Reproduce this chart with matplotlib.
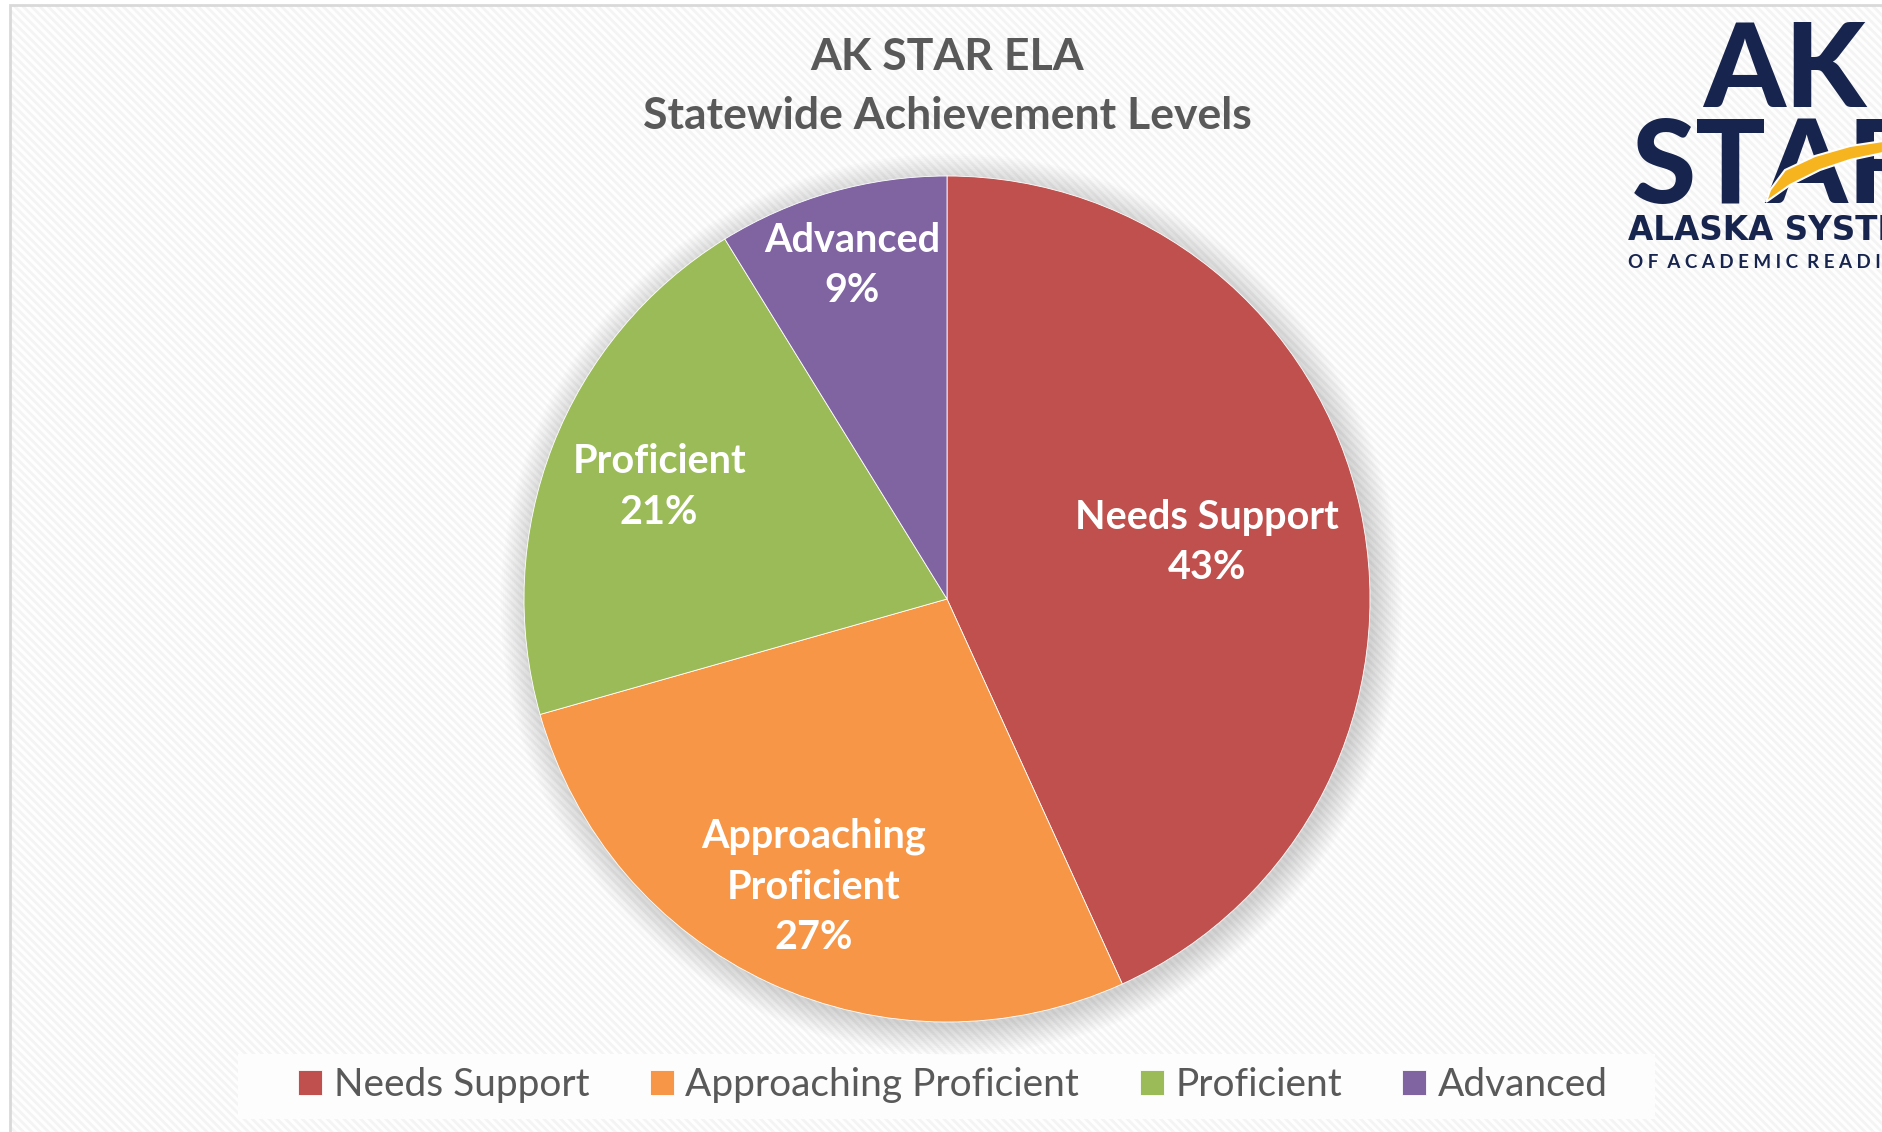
import matplotlib.pyplot as plt
import numpy as np
from matplotlib.patches import Rectangle, Circle, Polygon

# data
levels = ['Needs Support', 'Approaching\nProficient', 'Proficient', 'Advanced']
legend_names = ['Needs Support', 'Approaching Proficient', 'Proficient', 'Advanced']
shares = [43.2, 27.4, 20.6, 8.8]
colors = ['#C0504D', '#F79646', '#9BBB59', '#8064A2']
label_dist = [0.63, 0.75, 0.73, 0.82]

plt.rcParams['hatch.linewidth'] = 2.0

W, H = 1883, 1132
fig = plt.figure(figsize=(W / 100, H / 100), dpi=100)
fig.patch.set_facecolor('white')

# chart area with faint diagonal stripes, then its border
fig.patches.append(Rectangle((10 / W, -0.01), 1, (H - 5) / H + 0.01, transform=fig.transFigure,
                             facecolor='#fefefe', edgecolor='#f4f4f4', linewidth=0,
                             hatch='\\\\\\\\', zorder=-10))
fig.patches.append(Rectangle((10 / W, -0.01), 1, (H - 5) / H + 0.01, transform=fig.transFigure,
                             facecolor='none', edgecolor='#d9d9d9', linewidth=2, zorder=-9))

# legend box
fig.patches.append(Rectangle((238 / W, 1 - 1119 / H), (1655 - 238) / W, 65 / H,
                             transform=fig.transFigure, facecolor='#fdfdfd',
                             edgecolor='none', zorder=-5))

# pie axes, centre at (947, 599) px, radius 423 px
cx, cy, r = 947, 599, 423
ax = fig.add_axes([(cx - r) / W, (H - cy - r) / H, 2 * r / W, 2 * r / H])
ax.set_aspect('equal')
ax.axis('off')
ax.patch.set_visible(False)

# soft shadow
for i in range(14):
    ax.add_patch(Circle((0.01, -0.012), 1.0 + 0.005 * i, facecolor='black',
                        alpha=0.012, edgecolor='none', zorder=1, clip_on=False))

wedges, _ = ax.pie(shares, colors=colors, startangle=90, counterclock=False,
                   radius=1.0, wedgeprops=dict(edgecolor='white', linewidth=0.6))
for w in wedges:
    w.set_zorder(3)
ax.set_xlim(-1, 1)
ax.set_ylim(-1, 1)

for w, lab, val, d in zip(wedges, levels, shares, label_dist):
    ang = np.deg2rad((w.theta1 + w.theta2) / 2)
    ax.text(d * np.cos(ang), d * np.sin(ang), f'{lab}\n{val:.0f}%',
            ha='center', va='center', color='white', fontsize=28.5,
            fontweight='bold', family='Lato', linespacing=1.45, zorder=5)

# title
fig.text(947 / W, 1 - 57 / H, 'AK STAR ELA', ha='center', va='center',
         fontsize=32, fontweight='bold', color='#595959', family='Lato')
fig.text(947 / W, 1 - 116 / H, 'Statewide Achievement Levels', ha='center', va='center',
         fontsize=32, fontweight='bold', color='#595959', family='Lato')

# legend
leg = fig.legend(wedges, legend_names, loc='center', bbox_to_anchor=(953 / W, 1 - 1085 / H),
                 ncol=4, frameon=False, handlelength=0.62, handleheight=0.62,
                 handletextpad=0.3, columnspacing=1.55,
                 prop=dict(family='Lato', size=28))
for t in leg.get_texts():
    t.set_color('#595959')

# logo, top right (cut off by the edge)
navy = '#17244E'
fig.text(1703 / W, 1 - 107 / H, 'AK', ha='left', va='baseline', fontsize=84,
         fontweight='black', color=navy, family='Lato')
fig.text(1632 / W, 1 - 203 / H, 'STAR', ha='left', va='baseline', fontsize=84,
         fontweight='black', color=navy, family='Lato')
fig.text(1628 / W, 1 - 240 / H, 'ALASKA SYSTEM', ha='left', va='baseline', fontsize=23.5,
         fontweight='bold', color=navy, family='DejaVu Sans')
fig.text(1628 / W, 1 - 268 / H, 'O F  A C A D E M I C  R E A D I N E S S', ha='left',
         va='baseline', fontsize=13.5, fontweight='bold', color=navy, family='Lato')
swoosh_x = np.array([1766, 1790, 1820, 1850, 1883, 1883, 1850, 1815, 1785, 1770])
swoosh_y = np.array([202, 185, 170, 160, 153, 141, 146, 156, 170, 190])
fig.patches.append(Polygon(np.column_stack([swoosh_x / W, 1 - swoosh_y / H]),
                           closed=True, transform=fig.transFigure,
                           facecolor='#F6B41F', edgecolor='white', linewidth=1.5,
                           zorder=6))

fig.savefig('out.png', dpi=100)
